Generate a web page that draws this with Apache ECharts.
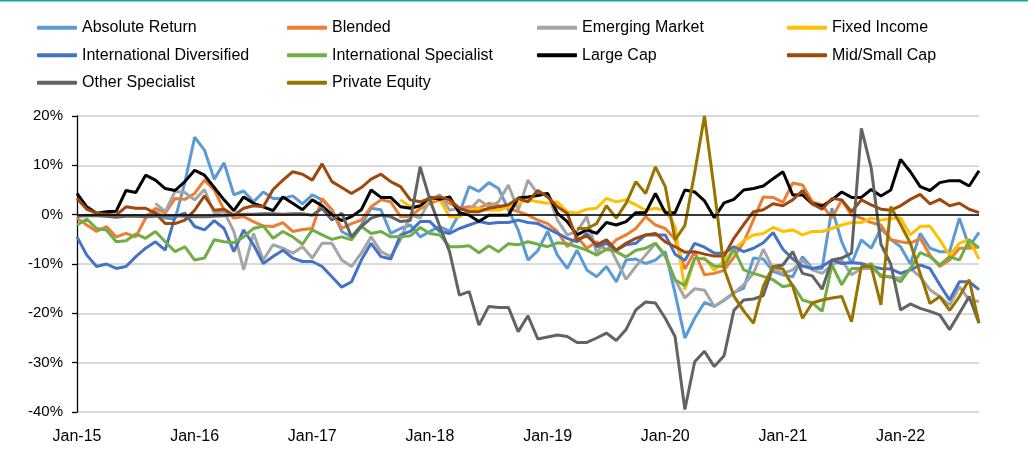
<!DOCTYPE html>
<html>
<head>
<meta charset="utf-8">
<script src="https://cdn.jsdelivr.net/npm/echarts@6.0.0/dist/echarts.min.js"></script>
<style>
  html, body { margin: 0; padding: 0; background: #fff; }
  #main { width: 1028px; height: 454px; }
</style>
</head>
<body>
<div id="main"></div>
<script>
// month labels Jan-15 .. Sep-22
const monthNames = ["Jan", "Feb", "Mar", "Apr", "May", "Jun", "Jul", "Aug", "Sep", "Oct", "Nov", "Dec"];
const years = ["15", "16", "17", "18", "19", "20", "21", "22"];
const categories = [];
for (const y of years) {
  for (const m of monthNames) {
    categories.push(m + "-" + y);
  }
}
categories.length = 93;

const absoluteReturn = [
  -0.2, -0.1, -0.1, -0.2, -0.3, -0.2, -0.2, -0.2, 0.6, -0.7, -0.9, 6.5,
  15.7, 13.1, 7.2, 10.5, 4.0, 4.8, 2.6, 4.6, 3.3, 3.3, 3.8, 2.2,
  4.0, 3.0, 1.0, -3.4, -4.5, -2.1, 1.3, 1.0, -3.8, -2.8, -2.1, -4.5,
  -3.4, -2.4, -3.4, 0.3, 5.7, 4.7, 6.5, 5.3, 1.0, -3.1, -9.2, -7.3,
  -3.4, -8.2, -10.9, -7.2, -11.2, -12.6, -10.5, -13.6, -9.2, -9.0, -9.9, -9.2,
  -7.5, -15.9, -25.0, -21.0, -17.8, -18.6, -17.3, -15.8, -14.9, -8.8, -9.0, -11.5,
  -12.2, -12.6, -8.5, -10.9, -10.9, 1.3, -5.5, -9.9, -5.1, -6.8, -2.8, -5.0,
  -6.5, -10.0, -3.8, -6.8, -7.5, -7.5, -0.7, -6.5, -3.6
];
const blended = [
  -0.7, -2.1, -3.4, -2.4, -4.5, -3.8, -4.5, -0.7, 1.3, 0.3, 3.3, 3.1,
  4.3, 7.0, 5.0, 1.0, -0.7, -0.4, -1.4, -2.3, -2.4, -1.6, -3.4, -3.0,
  -2.8, 3.3, 1.0, -2.8, -1.8, -1.1, 1.6, 3.0, 2.6, -0.4, -0.3, 1.2,
  2.3, 3.0, 2.3, 1.3, 1.6, 1.3, 2.3, 1.8, 1.3, 0.6, -0.1, -1.1,
  -1.8, -3.4, -6.5, -4.5, -6.8, -5.5, -7.2, -5.1, -4.1, -2.8, -0.4, -2.1,
  -2.8, -5.0, -11.0, -7.5, -12.2, -11.9, -11.3, -8.6, -5.6, -1.0, 3.6, 3.5,
  2.5, 6.4, 6.0, 2.6, 2.0, -0.7, 3.0, -0.1, -0.7, -1.6, -2.1, -5.1,
  -5.5, -5.8, -4.8, -8.2, -10.5, -9.2, -6.8, -6.8, -6.5
];
const emergingMarket = [
  null, null, null, null, null, null, null, null, 2.3, 0.6, 4.7, 4.5,
  3.0, 5.1, 0.3, 0.6, -3.4, -11.2, -3.8, -9.2, -6.1, -6.8, -7.8, -6.5,
  -8.8, -5.8, -5.8, -9.2, -10.5, -7.8, -4.5, -7.5, -8.5, -5.1, -0.1, -0.7,
  3.0, 4.0, 0.9, 1.3, 0.9, 3.0, 1.6, 2.6, 6.0, 0.9, 7.0, 4.2,
  4.3, -1.1, -4.1, -3.4, -0.4, -7.8, -5.1, -9.2, -13.1, -10.5, -8.2, -5.8,
  -8.5, -13.2, -16.9, -15.0, -15.3, -18.6, -17.4, -15.9, -14.2, -11.9, -7.0, -11.0,
  -11.9, -11.2, -9.2, -11.2, -11.9, -10.2, -9.2, -12.2, -10.9, -10.9, -12.2, -12.7,
  -12.9, -10.9, -12.6, -15.2, -16.6, -18.3, -14.6, -17.3, -17.6
];
const fixedIncome = [
  null, null, null, null, null, null, null, null, null, null, null, null,
  null, null, null, null, null, null, null, null, null, null, null, null,
  null, null, null, null, null, null, null, null, null, 3.0, 1.6, 1.6,
  3.0, 3.0, -0.4, -0.4, 0.9, 1.3, 0.9, 0.9, 1.6, 2.3, 3.0, 2.6,
  2.3, 2.6, 0.6, 0.3, 1.1, 1.3, 3.3, 2.6, 3.0, 2.0, 0.9, 1.3,
  0.9, -2.4, -15.2, -9.0, -8.8, -11.3, -9.3, -7.0, -5.3, -4.1, -3.8, -2.6,
  -3.4, -3.1, -4.1, -3.4, -3.4, -2.8, -2.1, -1.6, -1.6, -0.7, -1.1, -0.8,
  -0.7, -4.1, -2.4, -2.3, -5.1, -8.2, -5.8, -5.0, -9.0
];
const intlDiversified = [
  -4.5, -8.2, -10.5, -10.0, -10.9, -10.5, -8.5, -6.8, -5.5, -7.2, -0.4, 0.3,
  -2.4, -3.1, -1.2, -2.8, -7.5, -3.1, -6.1, -9.9, -8.5, -7.2, -8.8, -9.5,
  -9.5, -10.5, -12.6, -14.7, -13.6, -9.2, -5.8, -8.5, -9.0, -4.1, -3.4, -1.4,
  -1.4, -3.4, -3.8, -2.8, -2.1, -1.4, -1.8, -1.6, -1.6, -1.1, -1.6, -1.8,
  -2.8, -3.8, -4.8, -5.5, -3.8, -6.5, -5.8, -7.2, -6.1, -5.8, -4.1, -4.1,
  -4.1, -8.0, -9.3, -5.8, -6.6, -7.8, -7.8, -6.5, -7.5, -6.8, -5.7, -3.6,
  -7.0, -9.0, -10.4, -10.9, -10.5, -9.2, -9.9, -9.7, -9.9, -10.5, -10.9, -11.0,
  -11.9, -11.2, -10.2, -10.9, -14.2, -17.3, -13.6, -13.6, -15.2
];
const intlSpecialist = [
  -2.1, -0.9, -2.8, -3.1, -5.5, -5.3, -3.9, -4.8, -3.4, -5.5, -7.5, -6.5,
  -9.2, -8.8, -5.1, -5.5, -5.7, -4.5, -2.8, -2.3, -4.8, -3.4, -4.5, -6.0,
  -3.1, -4.1, -5.0, -4.5, -5.1, -2.4, -3.8, -3.4, -4.5, -4.5, -4.3, -2.6,
  -3.8, -4.1, -6.5, -6.5, -6.3, -7.7, -6.3, -7.5, -5.9, -6.1, -5.5, -6.0,
  -6.5, -5.7, -5.9, -6.5, -7.2, -8.2, -7.0, -7.5, -8.6, -7.2, -6.8, -5.8,
  -8.2, -13.2, -14.4, -8.8, -9.0, -10.4, -10.5, -7.0, -11.2, -11.9, -12.5, -13.2,
  -14.6, -14.2, -17.3, -17.9, -19.6, -10.2, -14.2, -10.9, -10.9, -9.9, -12.6, -12.6,
  -13.6, -10.9, -7.7, -8.5, -10.2, -8.5, -9.2, -5.1, -6.8
];
const largeCap = [
  4.3, 1.6, 0.3, 0.6, 0.7, 4.9, 4.5, 8.0, 7.0, 5.3, 4.9, 6.7,
  9.0, 8.0, 5.5, 3.0, 0.8, 3.6, 2.3, 1.6, 0.8, 3.6, 2.3, 1.0,
  3.0, 1.8, 0.0, -1.2, -0.4, 1.0, 5.0, 3.5, 3.5, 1.6, 1.3, 1.8,
  3.5, 3.1, 3.6, 0.4, -0.1, -1.4, -0.1, -0.1, -0.1, 3.4, 3.6, 3.9,
  4.3, 0.3, -1.4, -4.1, -3.1, -3.8, -1.6, -2.1, -1.4, 0.4, 0.4, 4.3,
  0.4, 0.4, 5.0, 4.6, 2.8, -0.6, 2.4, 3.1, 5.0, 5.3, 5.8, 7.3,
  8.7, 4.0, 4.0, 2.2, 1.7, 3.0, 4.6, 3.5, 3.5, 5.1, 3.8, 5.0,
  11.2, 8.7, 5.7, 4.9, 6.5, 6.9, 6.9, 5.8, 8.9
];
const midSmallCap = [
  3.3, 1.1, 0.3, 0.1, -0.1, 1.6, 1.3, 1.3, 0.3, -1.8, -1.8, -1.1,
  0.9, 3.8, 0.9, 1.1, -0.1, 1.3, 1.8, 1.6, 5.1, 7.0, 8.7, 8.2,
  7.0, 10.3, 6.7, 5.5, 4.3, 5.5, 7.2, 8.2, 6.7, 5.7, 3.0, 2.6,
  3.3, 3.6, 3.0, 1.3, 0.6, 0.6, 1.3, 1.6, 2.0, 3.3, 2.6, 4.9,
  3.6, 1.6, 0.3, -5.1, -4.3, -6.1, -5.1, -7.2, -5.8, -4.8, -4.1, -3.8,
  -5.5, -6.5, -7.6, -7.5, -8.0, -8.4, -8.4, -4.8, -2.0, 0.6, 1.0, 2.2,
  1.8, 3.0, 4.9, 2.2, 1.1, 3.3, 3.0, 0.6, 3.0, 2.0, 1.1, 0.9,
  1.8, 3.1, 4.1, 2.2, 3.1, 1.8, 2.3, 1.1, 0.4
];
const otherSpecialist = [
  -0.3, -0.2, -0.2, -0.3, -0.5, -0.3, -0.3, -0.4, -0.3, -0.2, -0.2, -0.3,
  -0.4, -0.4, -0.3, -0.2, 0.0, 0.1, 0.1, 0.2, 0.2, 0.1, 0.2, 0.2,
  -0.1, 1.3, -1.1, 0.3, -4.5, -2.4, -0.7, -0.1, -0.4, -1.4, -1.2, 9.7,
  3.0, -2.4, -7.5, -16.3, -15.6, -22.4, -18.6, -18.8, -18.8, -23.7, -20.5, -25.2,
  -24.8, -24.4, -24.7, -25.9, -25.9, -25.0, -24.0, -25.5, -23.3, -19.3, -17.7, -17.9,
  -21.0, -24.7, -39.5, -29.8, -27.7, -30.8, -28.6, -19.4, -17.3, -17.1, -16.4, -10.5,
  -10.2, -7.5, -11.9, -12.4, -15.1, -9.2, -8.8, -7.8, 17.5, 9.5, -6.0, -10.0,
  -19.3, -18.1, -19.0, -19.6, -20.3, -23.3, -20.0, -16.6, -22.0
];
const privateEquity = [
  null, null, null, null, null, null, null, null, null, null, null, null,
  null, null, null, null, null, null, null, null, null, null, null, null,
  null, null, null, null, null, null, null, null, null, null, null, null,
  null, null, null, null, null, null, null, null, null, null, null, null,
  null, null, null, -2.8, -2.8, -1.8, 1.8, -0.7, 2.3, 6.7, 4.3, 9.7,
  5.7, -5.1, -2.2, 8.5, 20.0, 5.0, -10.9, -16.5, -19.5, -22.0, -14.5, -10.5,
  -11.0, -14.5, -21.0, -17.9, -17.3, -16.9, -16.6, -21.7, -10.5, -10.5, -18.3, 1.6,
  -2.0, -5.8, -11.9, -18.0, -16.6, -19.4, -16.6, -13.2, -22.0
];

const seriesList = [
  { name: "Absolute Return", data: absoluteReturn, color: "#5B9BD5" },
  { name: "Blended", data: blended, color: "#ED7D31" },
  { name: "Emerging Market", data: emergingMarket, color: "#A5A5A5" },
  { name: "Fixed Income", data: fixedIncome, color: "#FFC000" },
  { name: "International Diversified", data: intlDiversified, color: "#4472C4" },
  { name: "International Specialist", data: intlSpecialist, color: "#70AD47" },
  { name: "Large Cap", data: largeCap, color: "#000000" },
  { name: "Mid/Small Cap", data: midSmallCap, color: "#9E480E" },
  { name: "Other Specialist", data: otherSpecialist, color: "#636363" },
  { name: "Private Equity", data: privateEquity, color: "#997300" }
];

const legendColumns = [
  ["Absolute Return", "International Diversified", "Other Specialist"],
  ["Blended", "International Specialist", "Private Equity"],
  ["Emerging Market", "Large Cap"],
  ["Fixed Income", "Mid/Small Cap"]
];

const font = "Liberation Sans, Arial, sans-serif";
const chart = echarts.init(document.getElementById("main"));

const option = {
  animation: false,
  backgroundColor: "#fff",
  graphic: [
    { type: "rect", left: 0, top: 0, shape: { width: 1028, height: 1.5 }, style: { fill: "#13A89E" } }
  ],
  legend: legendColumns.map((col, i) => ({
    data: col,
    orient: "vertical",
    left: 37 + i * 250,
    top: 14,
    padding: 0,
    itemGap: 0,
    itemWidth: 40,
    itemHeight: 4,
    icon: "roundRect",
    textStyle: { fontFamily: font, fontSize: 16, color: "#000", lineHeight: 27.5 }
  })),
  grid: { left: 77, right: 49, top: 116, bottom: 42 },
  xAxis: {
    type: "category",
    data: categories,
    boundaryGap: false,
    axisLine: { show: false, onZero: false },
    axisTick: { show: false },
    axisLabel: { interval: 11, margin: 17, fontFamily: font, fontSize: 16, color: "#000" },
    splitLine: { show: false }
  },
  yAxis: {
    type: "value",
    min: -40,
    max: 20,
    interval: 10,
    axisLine: { show: true, lineStyle: { color: "#000", width: 1.3 } },
    axisTick: { show: true, length: 5, lineStyle: { color: "#000", width: 1.3 } },
    axisLabel: { formatter: "{value}%", margin: 14, fontFamily: font, fontSize: 15, color: "#000" },
    splitLine: { lineStyle: { color: "#D9D9D9", width: 2 } }
  },
  series: seriesList.map((s, i) => {
    const obj = {
      name: s.name,
      type: "line",
      data: s.data,
      showSymbol: false,
      symbol: "none",
      color: s.color,
      lineStyle: { color: s.color, width: 3 },
      emphasis: { disabled: true }
    };
    if (i === 0) {
      obj.markLine = {
        silent: true,
        symbol: "none",
        label: { show: false },
        lineStyle: { color: "#000", width: 1.5, type: "solid" },
        data: [{ yAxis: 0 }]
      };
    }
    return obj;
  })
};

chart.setOption(option);
</script>
</body>
</html>
